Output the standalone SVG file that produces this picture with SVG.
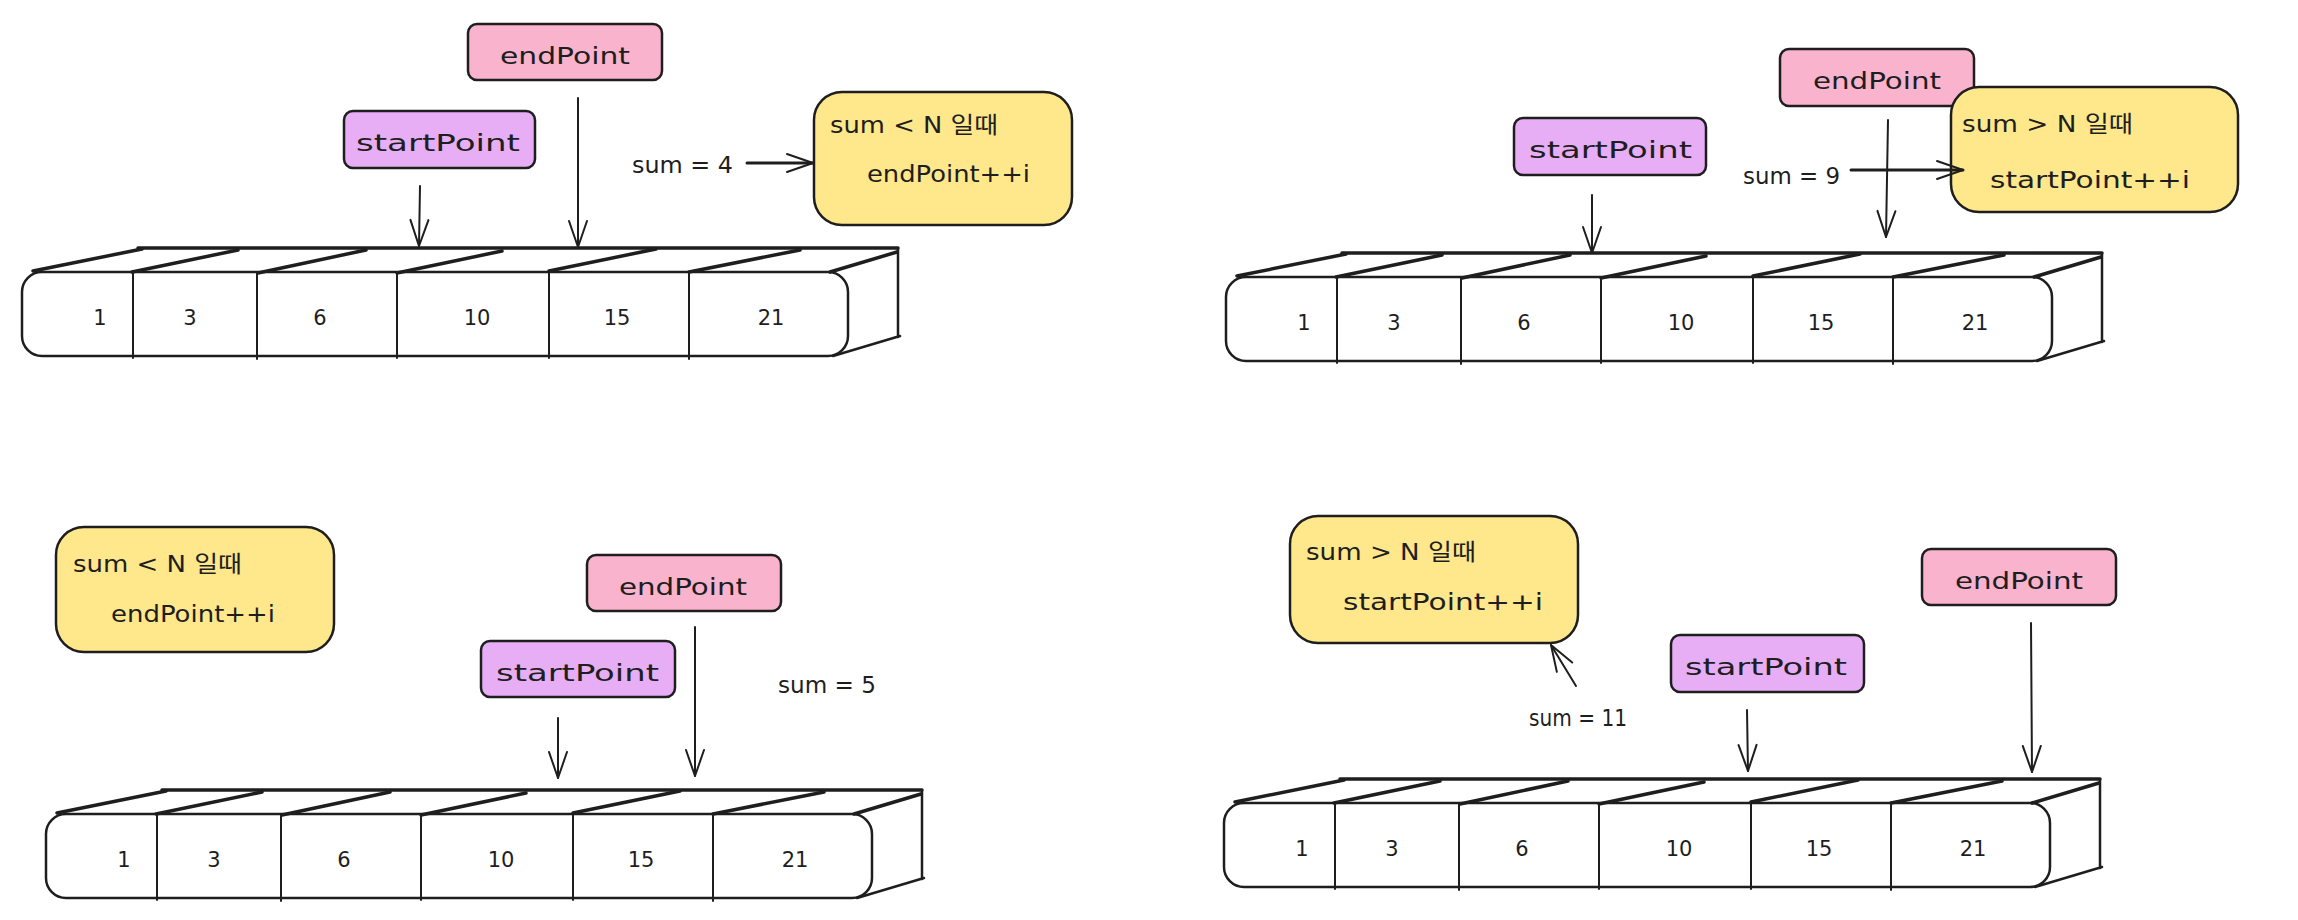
<svg xmlns="http://www.w3.org/2000/svg" width="2298" height="920" viewBox="0 0 2298 920">
<style>
.bx{stroke:#1e1e1e;stroke-width:2.5}
.pk{fill:#f9b3cd}.pu{fill:#e7aef6}.ye{fill:#ffe78c}
.t{font-family:"DejaVu Sans","Noto Sans CJK KR",sans-serif;font-size:23px;fill:#1e1e1e}
.n{font-family:"DejaVu Sans",sans-serif;font-size:21px;fill:#1e1e1e;text-anchor:middle}
.ln{stroke:#1e1e1e;fill:none;stroke-linecap:round}
.k{stroke-width:3.5}.m{stroke-width:2.5}.s{stroke-width:2}
.ar{stroke:#1e1e1e;stroke-width:2;fill:none;stroke-linecap:round;marker-end:url(#ah)}
.ar3{stroke-width:3}
</style>
<defs>
<marker id="ah" viewBox="-30 -12 34 24" refX="0" refY="0" markerWidth="34" markerHeight="24" markerUnits="userSpaceOnUse" orient="auto">
<path d="M-26,-9 L0,0 L-26,9" fill="none" stroke="#1e1e1e" stroke-width="2" stroke-linecap="round" stroke-linejoin="round"/>
</marker>
</defs>
<rect width="2298" height="920" fill="#ffffff"/>

<!-- ===== Top-left panel ===== -->
<g id="array-tl">
<rect class="ln m" x="22" y="272" width="826" height="84" rx="20" fill="#fff"/>
<path class="ln k" d="M138,248 L898,248"/>
<path class="ln k" d="M33,271 L142,249 M132,272 L238,250 M258,273 L366,250 M397,273 L502,251 M549,271 L656,249 M689,272 L800,250 M830,272 L897,252"/>
<path class="ln m" d="M898,249 L898,337 M833,356 L900,336"/>
<path class="ln s" d="M133,272 L133,358 M257,272 L257,359 M397,273 L397,358 M549,271 L549,358 M689,272 L689,359"/>
<text class="n" x="100" y="325">1</text>
<text class="n" x="190" y="325">3</text>
<text class="n" x="320" y="325">6</text>
<text class="n" x="477" y="325">10</text>
<text class="n" x="617" y="325">15</text>
<text class="n" x="771" y="325">21</text>
</g>
<g id="end-tl">
<rect class="bx pk" x="468" y="24" width="194" height="56" rx="9"/>
<text class="t" x="500" y="64" textLength="130" lengthAdjust="spacingAndGlyphs">endPoint</text>
</g>
<g id="start-tl">
<rect class="bx pu" x="344" y="111" width="191" height="57" rx="9"/>
<text class="t" x="356" y="151" textLength="164" lengthAdjust="spacingAndGlyphs">startPoint</text>
</g>
<g id="sum-tl">
<text class="t" x="632" y="173" textLength="101" lengthAdjust="spacingAndGlyphs">sum = 4</text>
</g>
<g id="rule-tl">
<rect class="bx ye" x="814" y="92" width="258" height="133" rx="28"/>
<text class="t" x="830" y="133" textLength="168" lengthAdjust="spacingAndGlyphs">sum &lt; N 일때</text>
<text class="t" x="867" y="182" textLength="163" lengthAdjust="spacingAndGlyphs">endPoint++i</text>
</g>

<!-- ===== Top-right panel ===== -->
<g id="array-tr" transform="translate(1204,5)">
<rect class="ln m" x="22" y="272" width="826" height="84" rx="20" fill="#fff"/>
<path class="ln k" d="M138,248 L898,248"/>
<path class="ln k" d="M33,271 L142,249 M132,272 L238,250 M258,273 L366,250 M397,273 L502,251 M549,271 L656,249 M689,272 L800,250 M830,272 L897,252"/>
<path class="ln m" d="M898,249 L898,337 M833,356 L900,336"/>
<path class="ln s" d="M133,272 L133,358 M257,272 L257,359 M397,273 L397,358 M549,271 L549,358 M689,272 L689,359"/>
<text class="n" x="100" y="325">1</text>
<text class="n" x="190" y="325">3</text>
<text class="n" x="320" y="325">6</text>
<text class="n" x="477" y="325">10</text>
<text class="n" x="617" y="325">15</text>
<text class="n" x="771" y="325">21</text>
</g>
<g id="end-tr">
<rect class="bx pk" x="1780" y="49" width="194" height="57" rx="9"/>
<text class="t" x="1813" y="89" textLength="128" lengthAdjust="spacingAndGlyphs">endPoint</text>
</g>
<g id="start-tr">
<rect class="bx pu" x="1514" y="118" width="192" height="57" rx="9"/>
<text class="t" x="1529" y="158" textLength="163" lengthAdjust="spacingAndGlyphs">startPoint</text>
</g>
<g id="sum-tr">
<text class="t" x="1743" y="184" textLength="97" lengthAdjust="spacingAndGlyphs">sum = 9</text>
</g>
<g id="rule-tr">
<rect class="bx ye" x="1951" y="87" width="287" height="125" rx="28"/>
<text class="t" x="1962" y="132" textLength="171" lengthAdjust="spacingAndGlyphs">sum &gt; N 일때</text>
<text class="t" x="1990" y="188" textLength="200" lengthAdjust="spacingAndGlyphs">startPoint++i</text>
</g>

<!-- ===== Bottom-left panel ===== -->
<g id="array-bl" transform="translate(24,542)">
<rect class="ln m" x="22" y="272" width="826" height="84" rx="20" fill="#fff"/>
<path class="ln k" d="M138,248 L898,248"/>
<path class="ln k" d="M33,271 L142,249 M132,272 L238,250 M258,273 L366,250 M397,273 L502,251 M549,271 L656,249 M689,272 L800,250 M830,272 L897,252"/>
<path class="ln m" d="M898,249 L898,337 M833,356 L900,336"/>
<path class="ln s" d="M133,272 L133,358 M257,272 L257,359 M397,273 L397,358 M549,271 L549,358 M689,272 L689,359"/>
<text class="n" x="100" y="325">1</text>
<text class="n" x="190" y="325">3</text>
<text class="n" x="320" y="325">6</text>
<text class="n" x="477" y="325">10</text>
<text class="n" x="617" y="325">15</text>
<text class="n" x="771" y="325">21</text>
</g>
<g id="rule-bl">
<rect class="bx ye" x="56" y="527" width="278" height="125" rx="28"/>
<text class="t" x="73" y="572" textLength="169" lengthAdjust="spacingAndGlyphs">sum &lt; N 일때</text>
<text class="t" x="111" y="622" textLength="164" lengthAdjust="spacingAndGlyphs">endPoint++i</text>
</g>
<g id="end-bl">
<rect class="bx pk" x="587" y="555" width="194" height="56" rx="9"/>
<text class="t" x="619" y="595" textLength="128" lengthAdjust="spacingAndGlyphs">endPoint</text>
</g>
<g id="start-bl">
<rect class="bx pu" x="481" y="641" width="194" height="56" rx="9"/>
<text class="t" x="496" y="681" textLength="163" lengthAdjust="spacingAndGlyphs">startPoint</text>
</g>
<g id="sum-bl">
<text class="t" x="778" y="693" textLength="98" lengthAdjust="spacingAndGlyphs">sum = 5</text>
</g>

<!-- ===== Bottom-right panel ===== -->
<g id="array-br" transform="translate(1202,531)">
<rect class="ln m" x="22" y="272" width="826" height="84" rx="20" fill="#fff"/>
<path class="ln k" d="M138,248 L898,248"/>
<path class="ln k" d="M33,271 L142,249 M132,272 L238,250 M258,273 L366,250 M397,273 L502,251 M549,271 L656,249 M689,272 L800,250 M830,272 L897,252"/>
<path class="ln m" d="M898,249 L898,337 M833,356 L900,336"/>
<path class="ln s" d="M133,272 L133,358 M257,272 L257,359 M397,273 L397,358 M549,271 L549,358 M689,272 L689,359"/>
<text class="n" x="100" y="325">1</text>
<text class="n" x="190" y="325">3</text>
<text class="n" x="320" y="325">6</text>
<text class="n" x="477" y="325">10</text>
<text class="n" x="617" y="325">15</text>
<text class="n" x="771" y="325">21</text>
</g>
<g id="rule-br">
<rect class="bx ye" x="1290" y="516" width="288" height="127" rx="28"/>
<text class="t" x="1306" y="560" textLength="170" lengthAdjust="spacingAndGlyphs">sum &gt; N 일때</text>
<text class="t" x="1343" y="610" textLength="200" lengthAdjust="spacingAndGlyphs">startPoint++i</text>
</g>
<g id="end-br">
<rect class="bx pk" x="1922" y="549" width="194" height="56" rx="9"/>
<text class="t" x="1955" y="589" textLength="128" lengthAdjust="spacingAndGlyphs">endPoint</text>
</g>
<g id="start-br">
<rect class="bx pu" x="1671" y="635" width="193" height="57" rx="9"/>
<text class="t" x="1685" y="675" textLength="162" lengthAdjust="spacingAndGlyphs">startPoint</text>
</g>
<g id="sum-br">
<text class="t" x="1529" y="726" textLength="98" lengthAdjust="spacingAndGlyphs">sum = 11</text>
</g>

<!-- ===== Connectors ===== -->
<g id="connectors">
<path class="ar" d="M578,98 L578,247"/>
<path class="ar" d="M420,186 L419,246"/>
<path class="ar ar3" d="M747,163 L813,163"/>
<path class="ar" d="M1888,120 L1886,237"/>
<path class="ar" d="M1592,195 L1592,253"/>
<path class="ar ar3" d="M1851,170 L1963,170"/>
<path class="ar" d="M695,627 L695,776"/>
<path class="ar" d="M558,718 L558,778"/>
<path class="ar" d="M2031,623 L2032,772"/>
<path class="ar" d="M1747,710 L1748,771"/>
<path class="ar" d="M1576,686 L1551,645"/>
</g>
</svg>
